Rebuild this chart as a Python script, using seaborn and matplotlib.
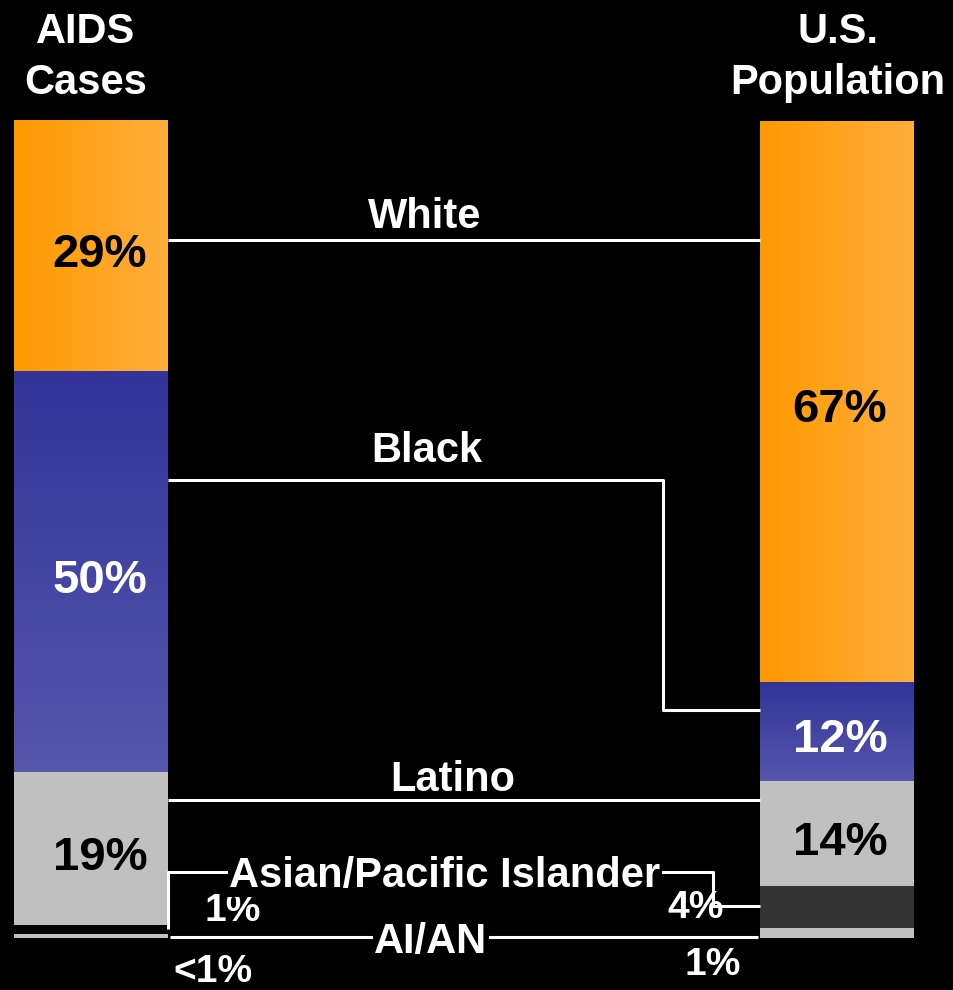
import numpy as np
import pandas as pd
import seaborn as sns
import matplotlib.pyplot as plt
from matplotlib.colors import LinearSegmentedColormap, to_rgba

# -----------------------------
# Data (bar shares as drawn, labels as printed)
# -----------------------------
groups = ["AIDS Cases", "U.S. Population"]
races = ["White", "Black", "Latino", "Asian/Pacific Islander", "AI/AN"]
aids_share = [30.7, 49.0, 18.8, 1.1, 0.4]
pop_share = [68.6, 12.2, 12.8, 5.1, 1.2]
aids_labels = ["29%", "50%", "19%", "1%", "<1%"]
pop_labels = ["67%", "12%", "14%", "4%", "1%"]
race_colors = ["#FF9900", "#333399", "#C0C0C0", "#333333", "#C0C0C0"]
label_colors = ["black", "white", "black"]

df = pd.DataFrame({
    "group": np.repeat(groups, len(races)),
    "race": races * len(groups),
    "share": aids_share + pop_share,
})

plt.rcParams["font.family"] = ["Liberation Sans", "DejaVu Sans"]
plt.rcParams["font.weight"] = "bold"

fig = plt.figure(figsize=(9.54, 9.90), dpi=100, facecolor="black")
ax = fig.add_axes([0, 0, 1, 1])
ax.set_facecolor("black")

shrink = 154 / 746
sns.histplot(data=df, x="group", weights="share", hue="race", hue_order=races,
             palette=dict(zip(races, race_colors)), multiple="stack",
             discrete=True, shrink=shrink, linewidth=0, alpha=1,
             legend=False, ax=ax)

xlim = (-91 / 746, 863 / 746)
ylim = (-6.42, 114.68)

# gradients: orange left->right, blue top->bottom; left Asian strip is black
orange_cmap = LinearSegmentedColormap.from_list("o", ["#FF9900", "#FFAE3C"])
blue_cmap = LinearSegmentedColormap.from_list("b", ["#333399", "#5656AD"])
for p in list(ax.patches):
    fc = p.get_facecolor()
    x0, y0 = p.get_x(), p.get_y()
    w, h = p.get_width(), p.get_height()
    if np.allclose(fc, to_rgba("#FF9900")):
        grad = np.linspace(0, 1, 256).reshape(1, -1)
        im = ax.imshow(grad, cmap=orange_cmap, aspect="auto",
                       extent=(x0, x0 + w, y0, y0 + h), zorder=2)
        im.set_clip_path(p)
    elif np.allclose(fc, to_rgba("#333399")):
        grad = np.linspace(0, 1, 256).reshape(-1, 1)
        im = ax.imshow(grad, cmap=blue_cmap, aspect="auto",
                       extent=(x0, x0 + w, y0, y0 + h), zorder=2)
        im.set_clip_path(p)
    elif np.allclose(fc, to_rgba("#333333")) and x0 < 0.5:
        p.set_facecolor("black")

# percent labels inside the three big segments
for gi, (shares, labels) in enumerate([(aids_share, aids_labels), (pop_share, pop_labels)]):
    tops = 100 - np.concatenate([[0], np.cumsum(shares)[:-1]])
    dx = 0.012 if gi == 0 else 0.004
    for i in range(3):
        ymid = tops[i] - shares[i] / 2
        ax.text(gi + dx, ymid - 1.2, labels[i], color=label_colors[i],
                fontsize=34, ha="center", va="center")

# small labels for the thin segments
small = [(0.190, 3.2, aids_labels[3]), (0.810, 3.6, pop_labels[3]),
         (0.1635, -4.2, aids_labels[4]), (0.834, -3.4, pop_labels[4])]
for x, y, t in small:
    ax.text(x, y, t, color="white", fontsize=28, ha="center", va="center")

# connector lines between the bars
xl, xr = shrink / 2, 1 - shrink / 2
lw = 2.2
connectors = [
    [(xl, 85.3), (xr, 85.3)],
    [(xl, 56.0), (0.767, 56.0), (0.767, 27.8), (xr, 27.8)],
    [(xl, 16.8), (xr, 16.8)],
    [(xl, 1.0), (xl, 8.0), (0.834, 8.0), (0.834, 3.85), (xr, 3.85)],
    [(xl + 0.003, 0.1), (xr - 0.003, 0.1)],
]
for pts in connectors:
    xs, ys = zip(*pts)
    ax.plot(xs, ys, color="white", lw=lw, solid_capstyle="butt", zorder=3)

race_text = [(0.4477, 88.1), (0.4504, 59.5), (0.4853, 19.3), (0.4745, 7.5), (0.4558, -0.5)]
for (x, y), name in zip(race_text, races):
    boxed = name in ("Asian/Pacific Islander", "AI/AN")
    ax.text(x, y, name, color="white", fontsize=30, ha="center", va="center",
            zorder=4,
            bbox=dict(facecolor="black", edgecolor="none", pad=1) if boxed else None)

# column headers
ax.text(-0.0067, 107.6, "AIDS\nCases", color="white", fontsize=30,
        ha="center", va="center", multialignment="center", linespacing=1.35)
ax.text(1.0013, 107.6, "U.S.\nPopulation", color="white", fontsize=30,
        ha="center", va="center", multialignment="center", linespacing=1.35)

ax.set_xlim(xlim)
ax.set_ylim(ylim)
ax.axis("off")

fig.savefig("out.png", dpi=100, facecolor="black")
